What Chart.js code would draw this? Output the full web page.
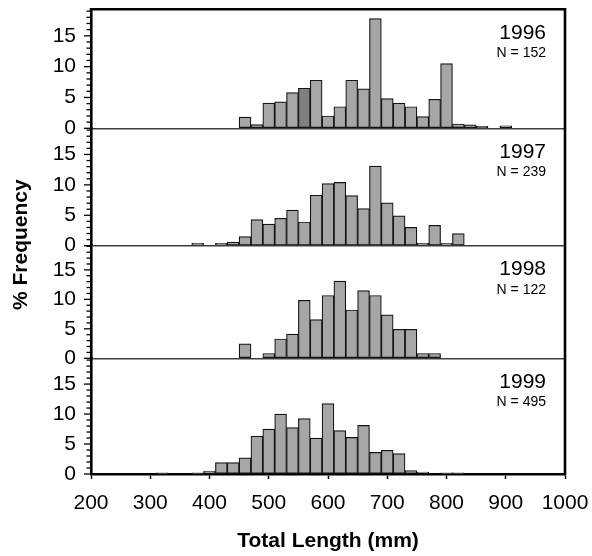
<!DOCTYPE html>
<html>
<head>
<meta charset="utf-8">
<script src="https://cdn.jsdelivr.net/npm/chart.js@4.4.1/dist/chart.umd.min.js"></script>
<style>
  html, body { margin: 0; padding: 0; background: #fff; }
  #wrap { width: 592px; height: 556px; position: relative; }
</style>
</head>
<body>
<div id="wrap"><canvas id="c" width="592" height="556"></canvas></div>
<script>
// Length-frequency histograms, 20 mm bins (bin centres in mm)
const binCenters = [300, 320, 340, 360, 380, 400, 420, 440, 460, 480, 500, 520, 540, 560, 580,
                    600, 620, 640, 660, 680, 700, 720, 740, 760, 780, 800, 820, 840, 860, 880, 900];

const years = ['1996', '1997', '1998', '1999'];
const sampleSizes = [152, 239, 122, 495];

// % frequency per bin
const freq1996 = [0, 0, 0, 0, 0, 0, 0, 0, 1.8, 0.6, 4.1, 4.3, 5.8, 6.5, 7.8,
                  2.0, 3.5, 7.8, 6.4, 17.8, 4.8, 4.1, 3.5, 1.9, 4.7, 10.5, 0.7, 0.55, 0.3, 0, 0.4];
const freq1997 = [0, 0, 0, 0, 0.4, 0, 0.4, 0.6, 1.5, 4.3, 3.55, 4.5, 5.85, 3.9, 8.3,
                  10.2, 10.4, 8.25, 6.1, 13.1, 7.05, 4.9, 3.0, 0.4, 3.35, 0.4, 2.0, 0, 0, 0, 0];
const freq1998 = [0, 0, 0, 0, 0, 0, 0, 0, 2.46, 0, 0.82, 3.28, 4.1, 9.84, 6.56,
                  10.66, 13.1, 8.2, 11.48, 10.66, 7.38, 4.92, 4.92, 0.82, 0.82, 0, 0, 0, 0, 0, 0];
const freq1999 = [0, 0.2, 0, 0, 0.2, 0.5, 1.9, 1.9, 2.7, 6.3, 7.5, 10.0, 7.75, 9.25, 6.0,
                  11.75, 7.25, 6.1, 8.1, 3.6, 3.95, 3.4, 0.55, 0.3, 0, 0.2, 0.2, 0, 0, 0, 0];

const yTickLabels = [0, 5, 10, 15];
const xTickLabels = [200, 300, 400, 500, 600, 700, 800, 900, 1000];

const series = [freq1996, freq1997, freq1998, freq1999];
const panelIds = ['y0', 'y1', 'y2', 'y3'];

// layout of the stacked panels (pixels / axis extents)
const panelWeights = [119, 117.4, 112.6, 115.7];
const panelMax = [19.3, 19.3, 19.1, 19.3];

const FONT = "'Liberation Sans', Arial, Helvetica, sans-serif";
Chart.defaults.font.family = FONT;
Chart.defaults.color = '#000';

const BAR_FILL = '#a6a6a6';
const BAR_FILL_DARK = '#7f7f7f';

const datasets = series.map((vals, i) => ({
  label: years[i],
  yAxisID: panelIds[i],
  data: binCenters.map((x, k) => ({ x: x, y: vals[k] })).filter(p => p.y > 0),
  backgroundColor: (ctx) => (i === 0 && ctx.raw && ctx.raw.x === 560) ? BAR_FILL_DARK : BAR_FILL,
  borderColor: '#141414',
  borderWidth: 1.2,
  borderSkipped: false,
  barPercentage: 1,
  categoryPercentage: 1,
  grouped: false
}));

const yScales = {};
panelIds.forEach((id, i) => {
  yScales[id] = {
    type: 'linear',
    position: 'left',
    stack: 'panels',
    stackWeight: panelWeights[i],
    weight: 10 - i,
    min: 0,
    max: panelMax[i],
    offset: false,
    grid: {
      drawOnChartArea: true,
      drawTicks: false,
      offset: false,
      color: (ctx) => (ctx.tick && ctx.tick.value === 0 && i < 3) ? '#3c3c3c' : 'rgba(0,0,0,0)',
      lineWidth: 1.4
    },
    border: { display: true, color: '#000', width: 2.6 },
    ticks: {
      stepSize: 1,
      autoSkip: false,
      includeBounds: false,
      padding: 15,
      font: { size: 21 },
      color: '#000',
      callback: (v) => yTickLabels.includes(v) ? String(v) : ''
    },
    afterFit: (scale) => {
      scale.width = 91;
      scale.paddingTop = 0;
      scale.paddingBottom = 0;
    }
  };
});

const panelDecor = {
  id: 'panelDecor',
  afterDraw(chart) {
    const ctx = chart.ctx;
    const a = chart.chartArea;
    ctx.save();

    // minor / major tick marks on the left axis
    ctx.strokeStyle = '#000';
    ctx.lineWidth = 1.3;
    panelIds.forEach((id) => {
      const s = chart.scales[id];
      s.ticks.forEach((t) => {
        const py = s.getPixelForValue(t.value);
        const len = (t.value % 5 === 0) ? 7 : 4.5;
        ctx.beginPath();
        ctx.moveTo(a.left - len, py);
        ctx.lineTo(a.left, py);
        ctx.stroke();
      });
    });

    // frame: top and right edges
    ctx.lineWidth = 2.6;
    ctx.lineCap = 'square';
    ctx.beginPath();
    ctx.moveTo(a.left, a.top);
    ctx.lineTo(a.right, a.top);
    ctx.lineTo(a.right, a.bottom);
    ctx.stroke();

    // year and sample size in each panel
    ctx.fillStyle = '#000';
    ctx.textAlign = 'right';
    ctx.textBaseline = 'middle';
    panelIds.forEach((id, i) => {
      const s = chart.scales[id];
      ctx.font = '21px ' + FONT;
      ctx.fillText(years[i], 546, s.top + 23.5);
      ctx.font = '14px ' + FONT;
      ctx.fillText('N = ' + sampleSizes[i], 546, s.top + 44);
    });

    // shared y-axis title
    ctx.translate(21, (a.top + a.bottom) / 2 + 3);
    ctx.rotate(-Math.PI / 2);
    ctx.textAlign = 'center';
    ctx.font = 'bold 21px ' + FONT;
    ctx.fillText('% Frequency', 0, 0);
    ctx.restore();
  }
};

new Chart(document.getElementById('c'), {
  type: 'bar',
  data: { datasets: datasets },
  options: {
    responsive: false,
    animation: false,
    events: [],
    layout: { padding: { top: 9.3, right: 27, bottom: 0, left: 0 } },
    plugins: { legend: { display: false }, tooltip: { enabled: false } },
    scales: Object.assign({
      x: {
        type: 'linear',
        position: 'bottom',
        min: xTickLabels[0],
        max: xTickLabels[xTickLabels.length - 1],
        offset: false,
        grid: {
          offset: false,
          drawOnChartArea: false,
          drawTicks: true,
          tickLength: 5,
          tickColor: '#000',
          tickWidth: 1.5
        },
        border: { display: true, color: '#000', width: 2.6 },
        ticks: {
          stepSize: 100,
          padding: 12,
          font: { size: 21 },
          color: '#000',
          maxRotation: 0,
          autoSkip: false,
          callback: (v) => String(v)
        },
        title: {
          display: true,
          text: 'Total Length (mm)',
          font: { size: 21, weight: 'bold' },
          color: '#000',
          padding: { top: 0, bottom: 2.4 }
        },
        afterFit: (scale) => {
          scale.height = 82;
          scale.paddingLeft = 0;
          scale.paddingRight = 0;
        }
      }
    }, yScales)
  },
  plugins: [panelDecor]
});
</script>
</body>
</html>
